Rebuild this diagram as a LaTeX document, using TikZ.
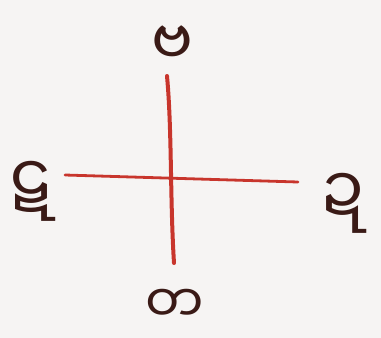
\documentclass[tikz,border=0pt]{standalone}
\usepackage{fontspec}
\newfontfamily\my[Script=Myanmar]{Noto Sans Myanmar UI}
\definecolor{paper}{HTML}{F6F4F3}
\definecolor{ink}{HTML}{3A1A16}
\definecolor{redline}{HTML}{C8352C}
\tikzset{
  letter/.style={font=\my\fontsize{52}{60}\selectfont, text=ink, inner sep=0pt, anchor=base},
  bigletter/.style={letter, font=\my\fontsize{66}{74}\selectfont},
  crossline/.style={draw=redline, line cap=round}
}
\begin{document}
\begin{tikzpicture}[x=1pt,y=-1pt]
\fill[paper] (0,0) rectangle (381,338);
\useasboundingbox (0,0) rectangle (381,338);
\coordinate (hL) at (65,175);
\coordinate (hR) at (298,182);
\coordinate (vT) at (167,76);
\coordinate (vB) at (174,263);
\draw[crossline, line width=2.8pt] (hL) -- (hR);
\draw[crossline, line width=4pt] (vT) .. controls (172,130) and (170,200) .. (vB);
\node[letter, font=\my\fontsize{62}{70}\selectfont] (north) at (172,65) {ဗ};
\node[bigletter] (west) at (31,203) {ဋ};
\node[bigletter] (east) at (342,215) {ဍ};
\node[letter] (south) at (175,322) {တ};
\end{tikzpicture}
\end{document}
